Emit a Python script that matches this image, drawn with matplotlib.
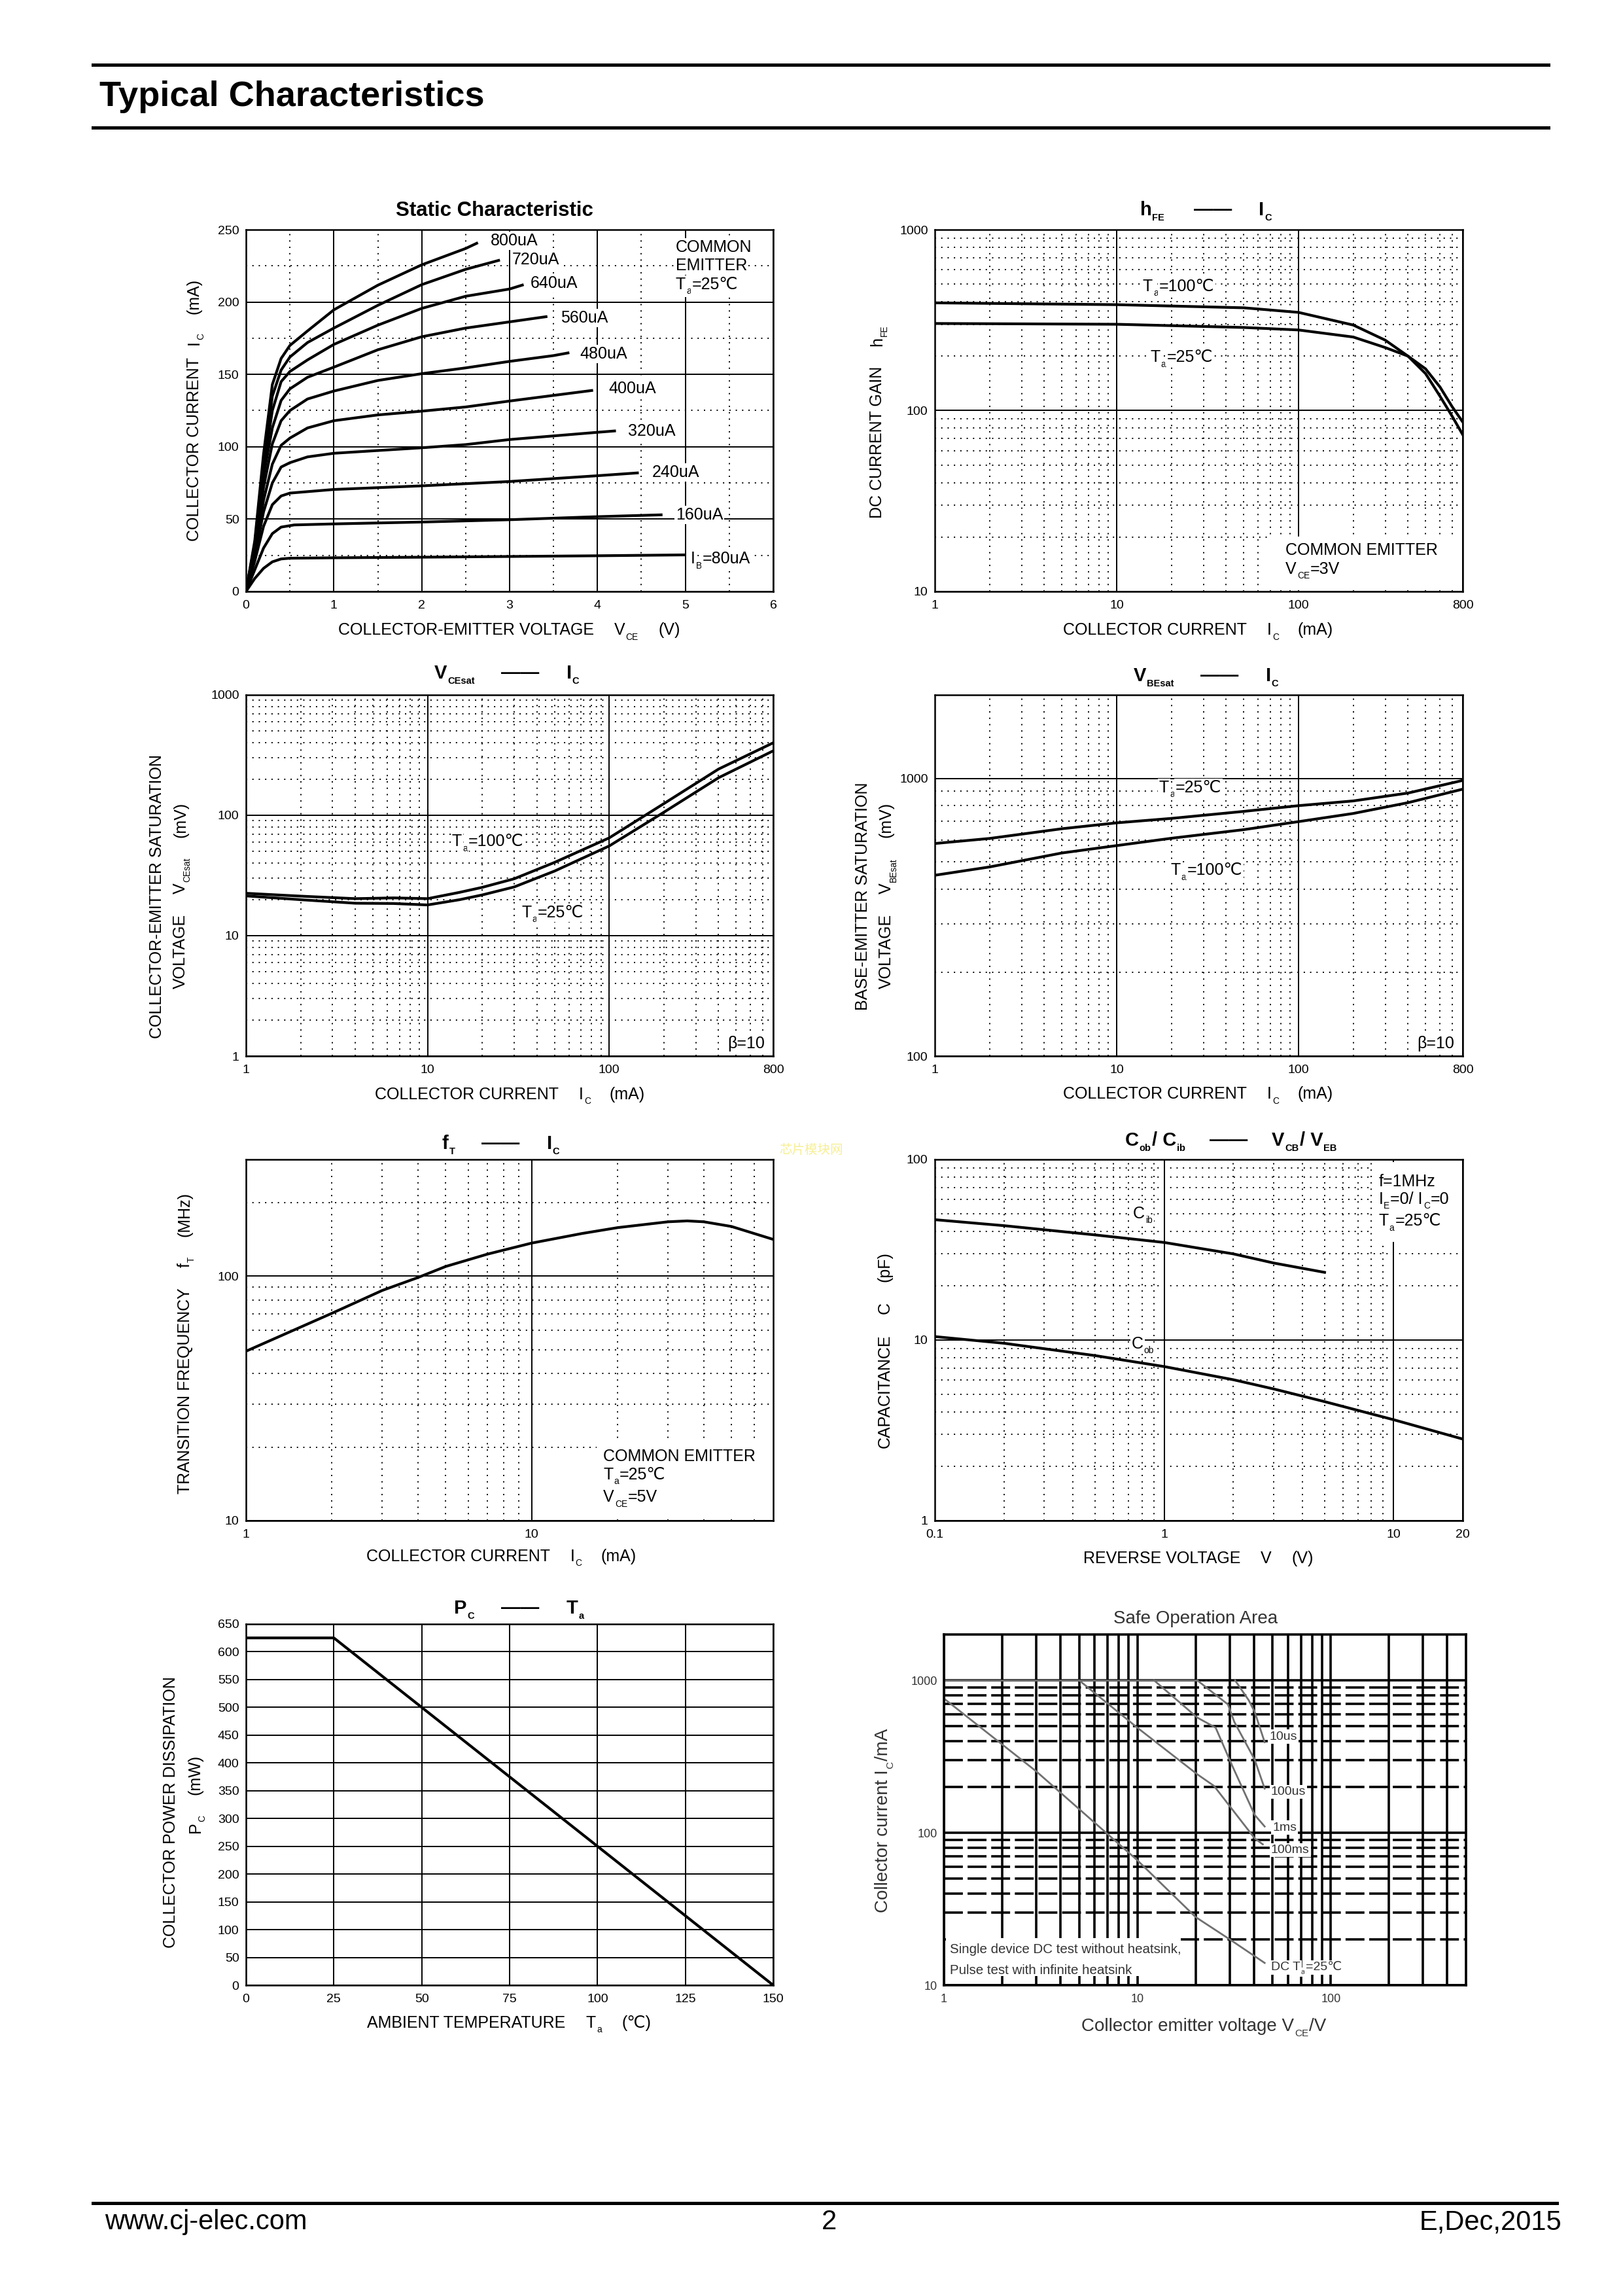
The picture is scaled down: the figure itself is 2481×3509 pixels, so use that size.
import matplotlib
matplotlib.use('Agg')
import matplotlib.pyplot as plt
from matplotlib.transforms import IdentityTransform
from matplotlib.patches import Rectangle
from matplotlib.lines import Line2D
from matplotlib.ticker import NullFormatter

W, H, DPI = 2481, 3509, 100
plt.rcParams['font.family'] = ['Liberation Sans', 'DejaVu Sans']

# ---- static characteristic (VCE in V, IC in mA) ----
s80_v = [0, 0.1, 0.2, 0.3, 0.4, 0.5, 1, 2, 3, 4, 5]
s80_i = [0, 9, 16, 20.5, 22.5, 23, 23.3, 23.7, 24.2, 24.7, 25.3]
s160_v = [0, 0.1, 0.2, 0.3, 0.4, 0.55, 1, 2, 3, 4, 4.74]
s160_i = [0, 15, 30, 40, 44.5, 46, 46.7, 48, 49.6, 51.7, 53]
s240_v = [0, 0.1, 0.2, 0.3, 0.4, 0.5, 1, 2, 3, 4, 4.47]
s240_i = [0, 21, 45, 60, 66, 68, 70.5, 73, 76, 80, 82]
s320_v = [0, 0.1, 0.2, 0.3, 0.4, 0.5, 0.7, 1, 1.5, 2, 2.5, 3, 3.5, 4, 4.21]
s320_i = [0, 24, 55, 75, 86, 89, 93, 95.5, 97.4, 99.3, 101.5, 105, 107.5, 110, 111]
s400_v = [0, 0.1, 0.2, 0.3, 0.4, 0.5, 0.7, 1, 1.5, 2, 2.5, 3, 3.5, 3.95]
s400_i = [0, 26, 63, 88, 101, 106, 113, 118, 122, 124.6, 127.5, 131.6, 135.5, 139]
s480_v = [0, 0.1, 0.2, 0.3, 0.4, 0.5, 0.7, 1, 1.5, 2, 2.5, 3, 3.5, 3.68]
s480_i = [0, 28, 72, 102, 118, 125, 133, 138.5, 145.8, 150.5, 154.5, 159, 163, 165]
s560_v = [0, 0.1, 0.2, 0.3, 0.4, 0.5, 0.7, 1, 1.5, 2, 2.5, 3, 3.43]
s560_i = [0, 30, 80, 113, 132, 140, 148, 155, 167, 176, 182, 186.3, 190]
s640_v = [0, 0.1, 0.2, 0.3, 0.4, 0.5, 0.7, 1, 1.5, 2, 2.5, 3, 3.16]
s640_i = [0, 32, 85, 125, 145, 152, 160, 170.7, 184, 195.6, 204, 209, 212]
s720_v = [0, 0.1, 0.2, 0.3, 0.4, 0.5, 0.7, 1, 1.5, 2, 2.5, 2.89]
s720_i = [0, 33, 90, 135, 153, 162, 172, 182, 197.7, 212, 222.6, 229]
s800_v = [0, 0.1, 0.2, 0.3, 0.4, 0.5, 0.7, 1, 1.5, 2, 2.5, 2.64]
s800_i = [0, 35, 95, 143, 161, 170, 180, 194.6, 211.6, 225.7, 237, 241]
static_labels = ['800uA', '720uA', '640uA', '560uA', '480uA', '400uA', '320uA', '240uA', '160uA']

# ---- hFE vs IC ----
hfe_ic = [1, 10, 50, 100, 200, 300, 400, 500, 600, 700, 800]
hfe_100 = [394, 385, 370, 349, 297, 245, 200, 160, 120, 93, 73.6]
hfe_25 = [303, 300, 288, 279, 255, 223, 200, 170, 135, 105, 86.5]

# ---- VCEsat vs IC ----
vce_ic = [1, 2, 4, 6.5, 10, 15, 20, 30, 50, 100, 200, 400, 800]
vce_100 = [22.5, 21.3, 20.3, 20.6, 20.3, 22.9, 25.2, 29.7, 40.6, 64.9, 125, 242, 400]
vce_25 = [21.4, 19.9, 18.6, 18.5, 18.0, 19.9, 21.8, 25.4, 34.4, 55.6, 106, 205, 343]

# ---- VBEsat vs IC ----
vbe_ic = [1, 2, 5, 10, 20, 50, 100, 200, 400, 800]
vbe_25 = [583, 608, 659, 692, 718, 761, 798, 830, 886, 984]
vbe_100 = [448, 480, 539, 573, 609, 654, 699, 748, 818, 915]

# ---- fT vs IC ----
ft_ic = [1, 2, 3, 4, 5, 7, 10, 15, 20, 30, 35, 40, 50, 60, 70]
ft_mhz = [49.3, 70.5, 87.4, 98.7, 109.5, 123, 136.5, 149.4, 157.9, 166.8, 168.2, 166.8, 159.6, 149.4, 141.3]

# ---- Cob / Cib vs reverse voltage ----
cib_v = [0.1, 0.2, 0.5, 1, 2, 3, 5]
cib_pf = [46.4, 43, 38.2, 34.7, 30, 26.7, 23.7]
cob_v = [0.1, 0.2, 0.5, 1, 2, 3, 5, 10, 20]
cob_pf = [10.45, 9.6, 8.2, 7.13, 6.03, 5.36, 4.56, 3.62, 2.83]

# ---- PC vs Ta ----
pc_ta = [0, 25, 150]
pc_mw = [625, 625, 0]

# ---- safe operating area ----
soa_imax_v = [1, 20.4]
soa_imax_i = [1000, 1000]
soa_10us_v = [32, 37.6, 40.4, 45.5]
soa_10us_i = [1000, 742, 622, 393]
soa_100us_v = [20.4, 29.4, 31.7, 40.4, 45.5]
soa_100us_i = [1000, 695, 534, 302, 195]
soa_1ms_v = [12.2, 20.4, 25.4, 30.9, 40.4, 45.5]
soa_1ms_i = [1000, 570, 489, 276, 131, 110]
soa_100ms_v = [5, 10, 20.4, 24.9, 40.4, 44.5]
soa_100ms_i = [1000, 489, 242, 203, 92, 84]
soa_dc_v = [1, 3, 10, 20, 30, 45.5]
soa_dc_i = [760, 253, 66, 28, 20, 14]

fig = plt.figure(figsize=(W / DPI, H / DPI), dpi=DPI)
renderer = fig.canvas.get_renderer()


def rich(x, y, parts, size=18, weight='normal', ha='left', va='center', rot=0,
         trans=None, color='black', bg=False, sub=0.55):
    # draws text pieces with subscripts; x, y in page pixels (top-left origin) or data coords
    if trans is not None:
        x, y = trans.transform((x, y))
    else:
        y = H - y
    px = size * DPI / 72
    if va == 'center':
        if rot == 0:
            y -= 0.36 * px
        else:
            x += 0.36 * px
    items = []
    total = 0
    for s, kind in parts:
        if kind == 'g':
            items.append((None, s, kind))
            total += s
            continue
        fs = size if kind == 'n' else size * sub
        kw = {}
        if bg:
            kw['bbox'] = dict(facecolor='white', edgecolor='none', pad=1.5)
        t = fig.text(0, 0, s, fontsize=fs, weight=weight, color=color, rotation=rot,
                     rotation_mode='anchor', ha='left', va='baseline',
                     transform=IdentityTransform(), **kw)
        bb = t.get_window_extent(renderer)
        ln = (bb.width if rot == 0 else bb.height) + 1
        items.append((t, ln, kind))
        total += ln
    pos = {'left': 0, 'center': -total / 2, 'right': -total}[ha]
    drop = 0.3 * px
    for t, ln, kind in items:
        if t is not None:
            d = drop if kind == 's' else 0
            if rot == 0:
                t.set_position((x + pos, y - d))
            else:
                t.set_position((x + d, y + pos))
        pos += ln


def add_ax(l, t, r, b):
    return fig.add_axes([l / W, 1 - b / H, (r - l) / W, (b - t) / H])


DOT = (0, (1, 4))


def style(ax, xmaj, xlab, ymaj, ylab, xmin=(), ymin=(), xlim=None, ylim=None,
          minor_ls=DOT, grid_lw=1.4):
    ax.set_xticks(xmaj)
    ax.set_xticklabels(xlab)
    ax.set_yticks(ymaj)
    ax.set_yticklabels(ylab)
    ax.set_xticks(list(xmin), minor=True)
    ax.set_yticks(list(ymin), minor=True)
    ax.xaxis.set_minor_formatter(NullFormatter())
    ax.yaxis.set_minor_formatter(NullFormatter())
    ax.set_xlim(*xlim)
    ax.set_ylim(*ylim)
    ax.tick_params(which='both', length=0)
    ax.tick_params(axis='x', pad=9, labelsize=14)
    ax.tick_params(axis='y', pad=7.5, labelsize=14)
    ax.grid(which='major', color='black', lw=grid_lw, ls='-')
    ax.grid(which='minor', color='black', lw=grid_lw, ls=minor_ls)
    for sp in ax.spines.values():
        sp.set_linewidth(1.8)
    ax.set_axisbelow(True)


def decades(lo, hi):
    out = []
    d = lo
    while d < hi:
        out += [d * k for k in range(2, 10) if d * k < hi]
        d *= 10
    return out


LW = 3.0

# ---------------- header / footer ----------------
for yy in (99, 195):
    fig.add_artist(Line2D([142 / W, 2367 / W], [1 - yy / H] * 2, lw=3.6, color='black'))
fig.add_artist(Line2D([142 / W, 2380 / W], [1 - 3367 / H] * 2, lw=3.6, color='black'))
fig.text(152 / W, 1 - 162 / H, 'Typical Characteristics', fontsize=39, weight='bold',
         ha='left', va='baseline')
fig.text(160 / W, 1 - 3407 / H, 'www.cj-elec.com', fontsize=30, ha='left', va='baseline')
fig.text(1267 / W, 1 - 3407 / H, '2', fontsize=30, ha='center', va='baseline')
fig.text(2387 / W, 1 - 3407 / H, 'E,Dec,2015', fontsize=30, ha='right', va='baseline')
fig.text(1240 / W, 1 - 1757 / H, '芯片模块网', fontsize=14, color='#f6ef95',
         family=['Noto Sans CJK SC', 'DejaVu Sans'], ha='center', va='center')

# ---------------- 1: static characteristic ----------------
ax1 = add_ax(376, 351, 1182, 904)
style(ax1, range(0, 7), [str(v) for v in range(0, 7)], range(0, 251, 50),
      [str(v) for v in range(0, 251, 50)],
      xmin=[0.5 + k for k in range(6)], ymin=[25 + 50 * k for k in range(5)],
      xlim=(0, 6), ylim=(0, 250))
for vv, ii in [(s80_v, s80_i), (s160_v, s160_i), (s240_v, s240_i), (s320_v, s320_i),
               (s400_v, s400_i), (s480_v, s480_i), (s560_v, s560_i), (s640_v, s640_i),
               (s720_v, s720_i), (s800_v, s800_i)]:
    ax1.plot(vv, ii, color='black', lw=LW, solid_capstyle='butt')
lab_pos = [(2.78, 243.4), (3.03, 229.9), (3.24, 214), (3.58, 190), (3.8, 165),
           (4.13, 141), (4.35, 111.5), (4.62, 83), (4.89, 54)]
for lab, (lx, ly) in zip(static_labels, lab_pos):
    rich(lx, ly, [(lab, 'n')], trans=ax1.transData, bg=True)
rich(5.06, 23.3, [('I', 'n'), ('B', 's'), ('=80uA', 'n')], trans=ax1.transData, bg=True)
rich(4.89, 238.8, [('COMMON', 'n')], trans=ax1.transData, bg=True)
rich(4.89, 226, [('EMITTER', 'n')], trans=ax1.transData, bg=True)
rich(4.89, 213, [('T', 'n'), ('a', 's'), ('=25℃', 'n')], trans=ax1.transData, bg=True)
rich(756, 318.5, [('Static Characteristic', 'n')], size=22.5, weight='bold', ha='center')
rich(779, 961, [('COLLECTOR-EMITTER VOLTAGE', 'n'), (30, 'g'), ('V', 'n'), ('CE', 's'),
                (30, 'g'), ('(V)', 'n')], ha='center')
rich(295, 626, [('COLLECTOR CURRENT', 'n'), (18, 'g'), ('I', 'n'), ('C', 's'), (28, 'g'),
                ('(mA)', 'n')], ha='center', rot=90)

# ---------------- 2: hFE ----------------
ax2 = add_ax(1429, 351, 2236, 904)
ax2.set_xscale('log')
ax2.set_yscale('log')
style(ax2, [1, 10, 100, 800], ['1', '10', '100', '800'], [10, 100, 1000], ['10', '100', '1000'],
      xmin=decades(1, 800), ymin=decades(10, 1000), xlim=(1, 800), ylim=(10, 1000))
ax2.add_patch(Rectangle((0.634, 0.003), 0.36, 0.148, transform=ax2.transAxes,
                        facecolor='white', edgecolor='none', zorder=1.5))
ax2.plot(hfe_ic, hfe_100, color='black', lw=LW)
ax2.plot(hfe_ic, hfe_25, color='black', lw=LW)
rich(13.9, 493, [('T', 'n'), ('a', 's'), ('=100℃', 'n')], trans=ax2.transData, bg=True)
rich(15.3, 200, [('T', 'n'), ('a', 's'), ('=25℃', 'n')], trans=ax2.transData, bg=True)
rich(85, 17.2, [('COMMON EMITTER', 'n')], trans=ax2.transData)
rich(85, 13.5, [('V', 'n'), ('CE', 's'), ('=3V', 'n')], trans=ax2.transData)
rich(1844, 318, [('h', 'n'), ('FE', 's'), (44, 'g'), ('——', 'n'), (40, 'g'), ('I', 'n'),
                 ('C', 's')], size=21, weight='bold', ha='center', sub=0.5)
rich(1832, 961, [('COLLECTOR CURRENT', 'n'), (30, 'g'), ('I', 'n'), ('C', 's'), (28, 'g'),
                 ('(mA)', 'n')], ha='center')
rich(1339, 643.5, [('DC CURRENT GAIN', 'n'), (30, 'g'), ('h', 'n'), ('FE', 's')],
     ha='center', rot=90)

# ---------------- 3: VCEsat ----------------
ax3 = add_ax(376, 1062, 1182, 1614)
ax3.set_xscale('log')
ax3.set_yscale('log')
style(ax3, [1, 10, 100, 800], ['1', '10', '100', '800'], [1, 10, 100, 1000],
      ['1', '10', '100', '1000'], xmin=decades(1, 800), ymin=decades(1, 1000),
      xlim=(1, 800), ylim=(1, 1000))
ax3.plot(vce_ic, vce_100, color='black', lw=LW)
ax3.plot(vce_ic, vce_25, color='black', lw=LW)
rich(13.6, 62, [('T', 'n'), ('a', 's'), ('=100℃', 'n')], trans=ax3.transData, bg=True)
rich(32.9, 15.9, [('T', 'n'), ('a', 's'), ('=25℃', 'n')], trans=ax3.transData, bg=True)
rich(447, 1.3, [('β=10', 'n')], trans=ax3.transData, bg=True)
rich(775, 1026, [('V', 'n'), ('CEsat', 's'), (40, 'g'), ('——', 'n'), (40, 'g'), ('I', 'n'),
                 ('C', 's')], size=21, weight='bold', ha='center', sub=0.5)
rich(780, 1670.5, [('COLLECTOR CURRENT', 'n'), (30, 'g'), ('I', 'n'), ('C', 's'), (28, 'g'),
                   ('(mA)', 'n')], ha='center')
rich(238, 1369, [('COLLECTOR-EMITTER SATURATION', 'n')], ha='center', rot=90)
rich(274, 1368, [('VOLTAGE', 'n'), (30, 'g'), ('V', 'n'), ('CEsat', 's'), (30, 'g'),
                 ('(mV)', 'n')], ha='center', rot=90)

# ---------------- 4: VBEsat ----------------
ax4 = add_ax(1429, 1062, 2236, 1614)
ax4.set_xscale('log')
ax4.set_yscale('log')
style(ax4, [1, 10, 100, 800], ['1', '10', '100', '800'], [100, 1000], ['100', '1000'],
      xmin=decades(1, 800), ymin=decades(100, 1000), xlim=(1, 800), ylim=(100, 2000))
ax4.plot(vbe_ic, vbe_25, color='black', lw=LW)
ax4.plot(vbe_ic, vbe_100, color='black', lw=LW)
rich(17.1, 937, [('T', 'n'), ('a', 's'), ('=25℃', 'n')], trans=ax4.transData, bg=True)
rich(19.8, 472, [('T', 'n'), ('a', 's'), ('=100℃', 'n')], trans=ax4.transData, bg=True)
rich(448, 112, [('β=10', 'n')], trans=ax4.transData, bg=True)
rich(1844, 1030, [('V', 'n'), ('BEsat', 's'), (40, 'g'), ('——', 'n'), (40, 'g'), ('I', 'n'),
                  ('C', 's')], size=21, weight='bold', ha='center', sub=0.5)
rich(1832, 1670, [('COLLECTOR CURRENT', 'n'), (30, 'g'), ('I', 'n'), ('C', 's'), (28, 'g'),
                  ('(mA)', 'n')], ha='center')
rich(1317.5, 1369, [('BASE-EMITTER SATURATION', 'n')], ha='center', rot=90)
rich(1353, 1368, [('VOLTAGE', 'n'), (30, 'g'), ('V', 'n'), ('BEsat', 's'), (30, 'g'),
                  ('(mV)', 'n')], ha='center', rot=90)

# ---------------- 5: fT ----------------
ax5 = add_ax(376, 1772, 1182, 2324)
ax5.set_xscale('log')
ax5.set_yscale('log')
style(ax5, [1, 10], ['1', '10'], [10, 100], ['10', '100'], xmin=decades(1, 70),
      ymin=decades(10, 300), xlim=(1, 70), ylim=(10, 300))
ax5.add_patch(Rectangle((0.665, 0.003), 0.33, 0.216, transform=ax5.transAxes,
                        facecolor='white', edgecolor='none', zorder=1.5))
ax5.plot(ft_ic, ft_mhz, color='black', lw=LW)
rich(17.8, 18.5, [('COMMON EMITTER', 'n')], trans=ax5.transData)
rich(17.8, 15.6, [('T', 'n'), ('a', 's'), ('=25℃', 'n')], trans=ax5.transData)
rich(17.8, 12.6, [('V', 'n'), ('CE', 's'), ('=5V', 'n')], trans=ax5.transData)
rich(766, 1745, [('f', 'n'), ('T', 's'), (40, 'g'), ('——', 'n'), (40, 'g'), ('I', 'n'),
                 ('C', 's')], size=21, weight='bold', ha='center', sub=0.5)
rich(766.6, 2376.5, [('COLLECTOR CURRENT', 'n'), (30, 'g'), ('I', 'n'), ('C', 's'), (28, 'g'),
                     ('(mA)', 'n')], ha='center')
rich(280.6, 2052, [('TRANSITION FREQUENCY', 'n'), (30, 'g'), ('f', 'n'), ('T', 's'), (30, 'g'),
                   ('(MHz)', 'n')], ha='center', rot=90)

# ---------------- 6: capacitance ----------------
ax6 = add_ax(1429, 1772, 2236, 2324)
ax6.set_xscale('log')
ax6.set_yscale('log')
style(ax6, [0.1, 1, 10, 20], ['0.1', '1', '10', '20'], [1, 10, 100], ['1', '10', '100'],
      xmin=decades(0.1, 10), ymin=decades(1, 100), xlim=(0.1, 20), ylim=(1, 100))
ax6.add_patch(Rectangle((0.828, 0.772), 0.168, 0.22, transform=ax6.transAxes,
                        facecolor='white', edgecolor='none', zorder=1.5))
ax6.plot(cib_v, cib_pf, color='black', lw=LW)
ax6.plot(cob_v, cob_pf, color='black', lw=LW)
rich(0.73, 51, [('C', 'n'), ('ib', 's')], trans=ax6.transData, bg=True)
rich(0.72, 9.7, [('C', 'n'), ('ob', 's')], trans=ax6.transData, bg=True)
rich(8.6, 76.6, [('f=1MHz', 'n')], trans=ax6.transData)
rich(8.6, 61.2, [('I', 'n'), ('E', 's'), ('=0/ I', 'n'), ('C', 's'), ('=0', 'n')],
     trans=ax6.transData)
rich(8.6, 46.4, [('T', 'n'), ('a', 's'), ('=25℃', 'n')], trans=ax6.transData)
rich(1882, 1740, [('C', 'n'), ('ob', 's'), ('/ C', 'n'), ('ib', 's'), (36, 'g'), ('——', 'n'),
                  (36, 'g'), ('V', 'n'), ('CB', 's'), ('/ V', 'n'), ('EB', 's')],
     size=21, weight='bold', ha='center', sub=0.5)
rich(1832.5, 2379.6, [('REVERSE VOLTAGE', 'n'), (30, 'g'), ('V', 'n'), (30, 'g'), ('(V)', 'n')],
     ha='center')
rich(1351, 2062.7, [('CAPACITANCE', 'n'), (30, 'g'), ('C', 'n'), (30, 'g'), ('(pF)', 'n')],
     ha='center', rot=90)

# ---------------- 7: PC - Ta ----------------
ax7 = add_ax(376, 2482, 1182, 3034)
style(ax7, range(0, 151, 25), [str(v) for v in range(0, 151, 25)], range(0, 651, 50),
      [str(v) for v in range(0, 651, 50)], xlim=(0, 150), ylim=(0, 650))
ax7.plot(pc_ta, pc_mw, color='black', lw=LW)
rich(794, 2455, [('P', 'n'), ('C', 's'), (40, 'g'), ('——', 'n'), (40, 'g'), ('T', 'n'),
                 ('a', 's')], size=21, weight='bold', ha='center', sub=0.5)
rich(779, 3089.6, [('AMBIENT TEMPERATURE', 'n'), (30, 'g'), ('T', 'n'), ('a', 's'), (30, 'g'),
                   ('(℃)', 'n')], ha='center')
rich(259.5, 2769, [('COLLECTOR POWER DISSIPATION', 'n')], ha='center', rot=90)
rich(296.5, 2741, [('P', 'n'), ('C', 's'), (30, 'g'), ('(mW)', 'n')], ha='center', rot=90)

# ---------------- 8: safe operating area ----------------
GR = '#333333'
ax8 = add_ax(1443, 2498, 2241, 3034)
ax8.set_xscale('log')
ax8.set_yscale('log')
style(ax8, [1, 10, 100], ['1', '10', '100'], [10, 100, 1000], ['10', '100', '1000'],
      xmin=decades(1, 500), ymin=decades(10, 2000), xlim=(1, 500), ylim=(10, 2000),
      minor_ls=(0, (8, 2)), grid_lw=2.6)
ax8.xaxis.grid(which='minor', color='black', lw=2.6, ls='-')
for sp in ax8.spines.values():
    sp.set_linewidth(2.6)
ax8.tick_params(labelsize=13, labelcolor=GR)
ax8.add_patch(Rectangle((0.004, 0.026), 0.45, 0.108, transform=ax8.transAxes,
                        facecolor='white', edgecolor='none', zorder=1.5))
for vv, ii in [(soa_imax_v, soa_imax_i), (soa_10us_v, soa_10us_i), (soa_100us_v, soa_100us_i),
               (soa_1ms_v, soa_1ms_i), (soa_100ms_v, soa_100ms_i), (soa_dc_v, soa_dc_i)]:
    ax8.plot(vv, ii, color='#707070', lw=2.0)
for lab, lx, ly in [('10us', 48, 438), ('100us', 49, 190), ('1ms', 50, 111), ('100ms', 49, 79)]:
    rich(lx, ly, [(lab, 'n')], size=14, trans=ax8.transData, bg=True, color=GR)
rich(49, 13.4, [('DC T', 'n'), ('a', 's'), ('=25℃', 'n')], size=14, trans=ax8.transData,
     bg=True, color=GR)
rich(1.07, 17.4, [('Single device DC test without heatsink,', 'n')], size=14.8,
     trans=ax8.transData, color=GR)
rich(1.07, 12.7, [('Pulse test with infinite heatsink', 'n')], size=14.8,
     trans=ax8.transData, color=GR)
rich(1828, 2471, [('Safe Operation Area', 'n')], size=20, ha='center', color=GR)
rich(1840.6, 3094, [('Collector emitter voltage V', 'n'), ('CE', 's'), ('/V', 'n')], size=20,
     ha='center', color=GR)
rich(1347, 2781.6, [('Collector current I', 'n'), ('C', 's'), ('/mA', 'n')], size=20,
     ha='center', rot=90, color=GR)

fig.savefig('out.png', dpi=DPI, facecolor='white')
